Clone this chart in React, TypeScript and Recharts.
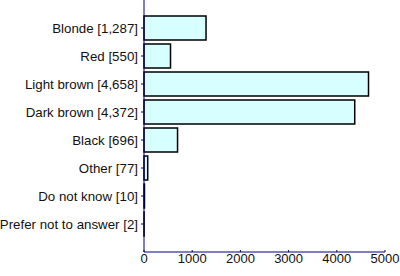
import React from 'react';
import { BarChart, Bar, XAxis, YAxis } from 'recharts';

const categories = ['Blonde', 'Red', 'Light brown', 'Dark brown', 'Black', 'Other', 'Do not know', 'Prefer not to answer'];
const counts = [1287, 550, 4658, 4372, 696, 77, 10, 2];
const xTicks = [0, 1000, 2000, 3000, 4000, 5000];

const data = categories.map((c, i) => ({
  label: `${c} [${counts[i].toLocaleString('en-US')}]`,
  value: counts[i],
}));

const FONT = 'Arial, "Liberation Sans", sans-serif';
const AXIS = '#000080';

const XTick = (props: any) => {
  const { x, y, payload } = props;
  return (
    <g>
      <line x1={x} x2={x} y1={y} y2={y - 2} stroke={AXIS} />
      <text x={x} y={y + 2} dy="0.71em" textAnchor="middle" fontFamily={FONT} fontSize={13} fill="#111">
        {payload.value}
      </text>
    </g>
  );
};

const YTick = (props: any) => {
  const { x, y, payload } = props;
  return (
    <text x={x} y={y} dy="0.355em" textAnchor="end" fontFamily={FONT} fontSize={13.3} fill="#111">
      {payload.value}
    </text>
  );
};

export default function App() {
  return (
    <div style={{ position: 'absolute', left: 0, top: 0, width: 400, height: 276, background: '#fff' }}>
      <BarChart
        width={400}
        height={276}
        data={data}
        layout="vertical"
        margin={{ top: 0, right: 15, bottom: 0, left: 0 }}
      >
        <XAxis
          type="number"
          domain={[0, 5000]}
          ticks={xTicks}
          height={24}
          tickSize={0}
          tickMargin={0}
          tickLine={false}
          axisLine={{ stroke: AXIS }}
          tick={<XTick />}
          interval={0}
        />
        <YAxis
          type="category"
          dataKey="label"
          width={144}
          padding={{ top: 14, bottom: 14 }}
          tickSize={3}
          tickMargin={3}
          axisLine={{ stroke: AXIS }}
          tickLine={{ stroke: AXIS }}
          tick={<YTick />}
          interval={0}
        />
        <Bar dataKey="value" barSize={24} fill="#D8FFFF" stroke="#000" strokeWidth={1.5} isAnimationActive={false} />
      </BarChart>
    </div>
  );
}
